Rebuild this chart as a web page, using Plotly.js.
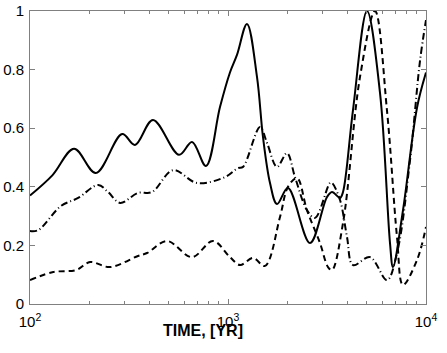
<!DOCTYPE html>
<html>
<head>
<meta charset="utf-8">
<script src="https://cdn.plot.ly/plotly-3.0.1.min.js"></script>
<style>
  html, body { margin: 0; padding: 0; background: #fff; }
  #plot { width: 447px; height: 353px; }
</style>
</head>
<body>
<div id="plot"></div>
<script>
// values (time in years, normalised amplitude)
const solidT = [100, 130, 167, 215, 292, 339, 418, 566, 658, 774, 911, 1023, 1110, 1247, 1401, 1502, 1630, 1768, 2009, 2595, 3162, 3352, 3679, 3809, 4278, 5035, 5859, 6579, 6813, 7653, 9006, 10000];
const solidV = [0.37, 0.44, 0.53, 0.447, 0.58, 0.543, 0.628, 0.509, 0.553, 0.471, 0.672, 0.79, 0.85, 0.956, 0.775, 0.57, 0.413, 0.341, 0.396, 0.208, 0.365, 0.382, 0.362, 0.382, 0.662, 1.0, 0.72, 0.208, 0.126, 0.32, 0.67, 0.79];

const dashT = [100, 131, 171, 201, 254, 351, 390, 492, 658, 840, 1023, 1150, 1338, 1538, 1831, 2009, 2232, 2506, 2915, 3200, 3352, 3809, 4642, 5526, 6353, 7137, 7653, 9006, 10000];
const dashV = [0.082, 0.109, 0.116, 0.143, 0.126, 0.164, 0.174, 0.215, 0.16, 0.215, 0.16, 0.133, 0.157, 0.13, 0.297, 0.4, 0.43, 0.32, 0.208, 0.126, 0.116, 0.276, 0.775, 1.0, 0.66, 0.229, 0.065, 0.15, 0.263];

const dotT = [100, 110, 143, 175, 221, 248, 285, 351, 413, 528, 697, 966, 1123, 1191, 1451, 1574, 1768, 1986, 2180, 2506, 2751, 3275, 3352, 3679, 3990, 4278, 5214, 6353, 7137, 8302, 9326, 10000];
const dotV = [0.249, 0.252, 0.334, 0.362, 0.406, 0.382, 0.345, 0.379, 0.382, 0.457, 0.413, 0.433, 0.464, 0.468, 0.604, 0.55, 0.468, 0.515, 0.433, 0.32, 0.294, 0.413, 0.413, 0.355, 0.229, 0.133, 0.16, 0.082, 0.174, 0.49, 0.83, 0.969];

const xTicks = [100, 1000, 10000];
const xTickText = ['10<sup>2</sup>', '10<sup>3</sup>', '10<sup>4</sup>'];
const yTicks = [0, 0.2, 0.4, 0.6, 0.8, 1];
const yTickText = ['0', '0.2', '0.4', '0.6', '0.8', '1'];

function line(x, y, dash) {
  return {
    x: x, y: y,
    mode: 'lines',
    type: 'scatter',
    line: {color: '#000', width: 2, dash: dash, shape: 'spline', smoothing: 1},
    hoverinfo: 'skip'
  };
}

let data = [
  line(solidT, solidV, 'solid'),
  line(dashT, dashV, '6px,4px'),
  line(dotT, dotV, '7px,3px,1px,3px')
];

let fnt = {family: 'Liberation Sans, Arial, sans-serif', size: 15, color: '#000'};

let layout = {
  width: 447, height: 353,
  margin: {l: 30, r: 21, t: 11, b: 49},
  paper_bgcolor: '#fff', plot_bgcolor: '#fff',
  showlegend: false,
  font: fnt,
  xaxis: {
    type: 'log', range: [2, 4],
    tickvals: xTicks, ticktext: xTickText,
    ticks: 'inside', ticklen: 5, tickcolor: '#808080',
    minor: {ticks: 'inside', ticklen: 3, tickcolor: '#808080',
            tickvals: [200,300,400,500,600,700,800,900,2000,3000,4000,5000,6000,7000,8000,9000]},
    showline: true, linecolor: '#808080', linewidth: 1, mirror: 'ticks',
    showgrid: false, zeroline: false,
    ticklabelstandoff: 4,
    tickfont: fnt
  },
  yaxis: {
    range: [0, 1],
    tickvals: yTicks, ticktext: yTickText,
    ticks: 'inside', ticklen: 5, tickcolor: '#808080',
    showline: true, linecolor: '#808080', linewidth: 1, mirror: 'ticks',
    showgrid: false, zeroline: false,
    ticklabelstandoff: 2,
    tickfont: fnt
  },
  annotations: [{
    text: '<b>TIME, [YR]</b>',
    xref: 'paper', yref: 'paper',
    x: 0.437, y: -0.092,
    xanchor: 'center', yanchor: 'middle',
    showarrow: false,
    font: {family: 'Liberation Sans, Arial, sans-serif', size: 16, color: '#000'}
  }]
};

Plotly.newPlot('plot', data, layout, {displayModeBar: false, staticPlot: true});
</script>
</body>
</html>
